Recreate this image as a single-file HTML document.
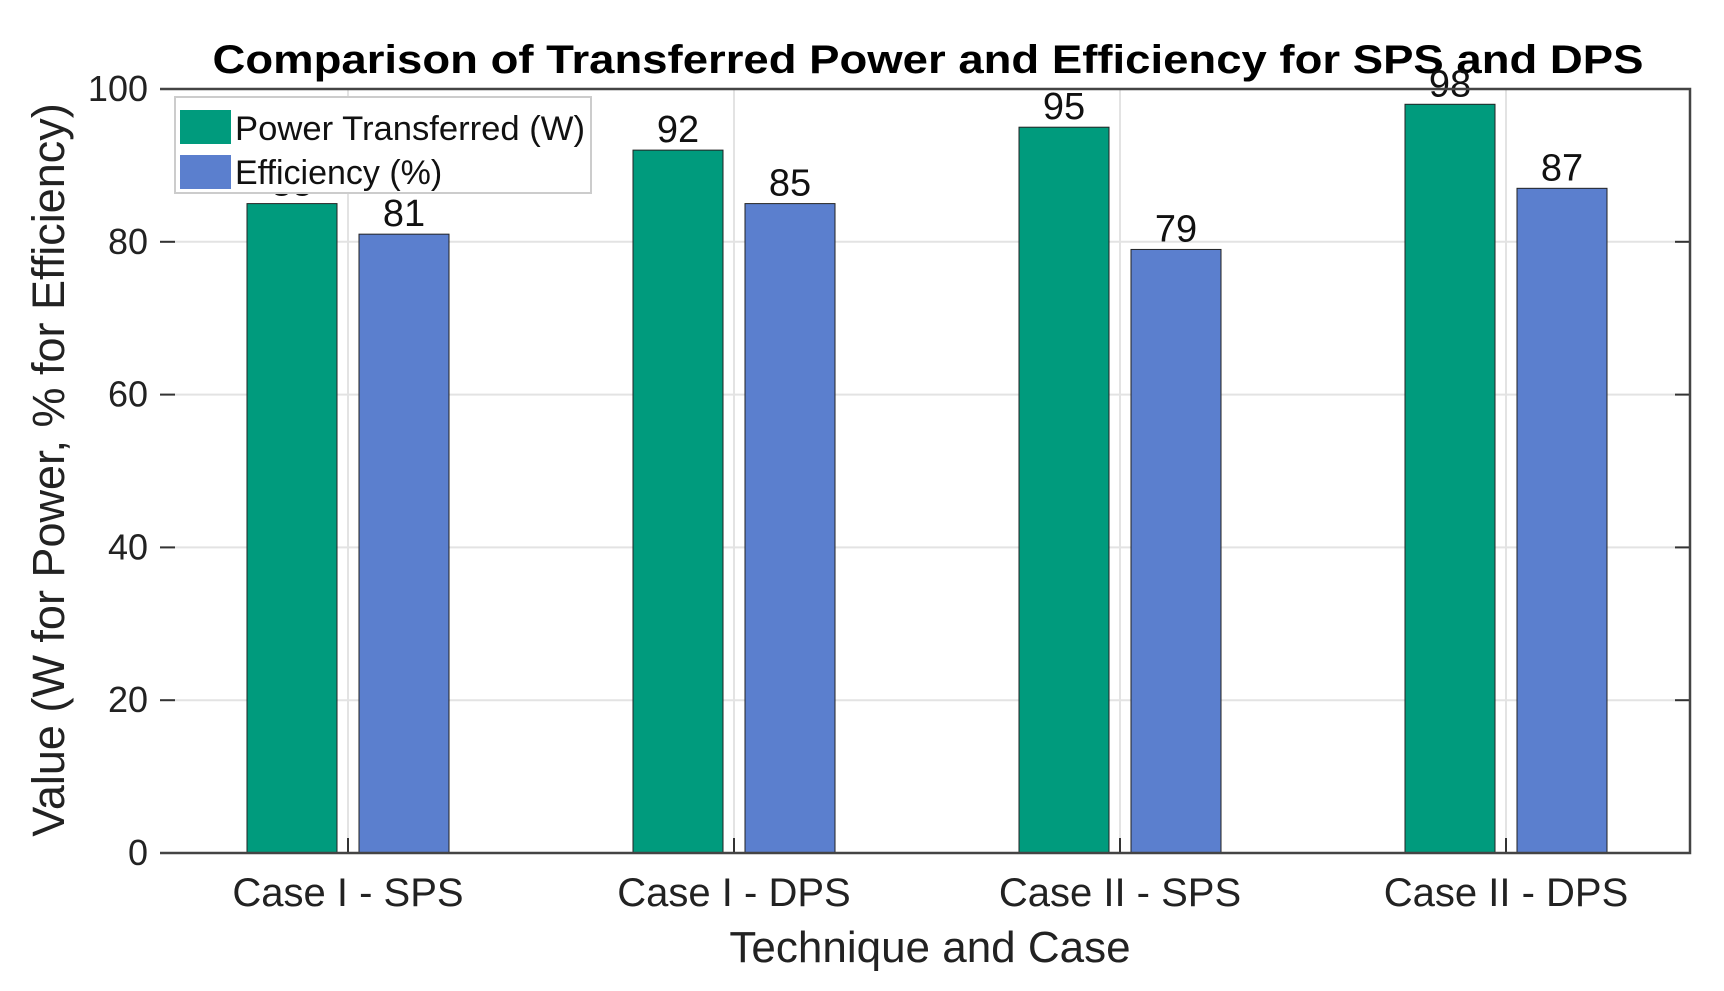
<!DOCTYPE html>
<html><head><meta charset="utf-8"><style>
html,body{margin:0;padding:0;background:#fff;}
svg{display:block;font-family:"Liberation Sans",sans-serif;}
</style></head><body>
<svg id="chart" width="1724" height="991" viewBox="0 0 1724 991">
<text x="928" y="73" text-anchor="middle" font-size="40" font-weight="bold" textLength="1431" lengthAdjust="spacingAndGlyphs">Comparison of Transferred Power and Efficiency for SPS and DPS</text>
<g id="grid"></g>
<g id="bars"></g>
<g id="axes"></g>
<text x="0" y="0" transform="translate(64,470) rotate(-90)" text-anchor="middle" font-size="45" fill="#222">Value (W for Power, % for Efficiency)</text>
<text x="930" y="962" text-anchor="middle" font-size="44" fill="#222">Technique and Case</text>
<g>
<rect x="175" y="97" width="416" height="96" fill="#fff" stroke="#ccc" stroke-width="2"/>
<rect x="180" y="110" width="51" height="34" fill="#009B7D"/>
<text x="235" y="140" font-size="34" fill="#111" textLength="350" lengthAdjust="spacingAndGlyphs">Power Transferred (W)</text>
<rect x="180" y="155" width="51" height="34" fill="#5B7FCE"/>
<text x="235" y="184" font-size="34" fill="#111">Efficiency (%)</text>
</g>
</svg>
<script>
const categories = ["Case I - SPS","Case I - DPS","Case II - SPS","Case II - DPS"];
const powerValues = [85, 92, 95, 98];
const efficiencyValues = [81, 85, 79, 87];
const yTicks = [0, 20, 40, 60, 80, 100];

const NS = "http://www.w3.org/2000/svg";
const L = 160, R = 1690, T = 89, B = 853;
const yMin = 0, yMax = 100;
function y(v){ return B - (v - yMin) / (yMax - yMin) * (B - T); }
const band = 386;
function xc(i){ return L + 188 + band * i; }
function mk(tag, attrs, parent){ const e = document.createElementNS(NS, tag); for (const k in attrs) e.setAttribute(k, attrs[k]); parent.appendChild(e); return e; }
const grid = document.getElementById('grid'), bars = document.getElementById('bars'), axes = document.getElementById('axes');

yTicks.forEach(t => {
  const ln = mk('line', {x1:L, x2:R, y1:y(t), y2:y(t), stroke:'#e3e3e3', 'stroke-width':2}, grid);
  
  
  const tk = mk('line', {x1:L, x2:L+15, y1:y(t), y2:y(t), stroke:'#333', 'stroke-width':2}, axes);
  
  
  const tk2 = mk('line', {x1:R-15, x2:R, y1:y(t), y2:y(t), stroke:'#333', 'stroke-width':2}, axes);
  
  
  const lb = mk('text', {x:L-12, y:y(t)+12, 'text-anchor':'end', 'font-size':36, fill:'#222'}, axes);
  lb.textContent = t;
  
  
});

const bw = 90, gap = 11;
categories.forEach((c, i) => {
  const vg = mk('line', {x1:xc(i), x2:xc(i), y1:T, y2:B, stroke:'#e3e3e3', 'stroke-width':2}, grid);
  
  
  const tk = mk('line', {x1:xc(i), x2:xc(i), y1:B-15, y2:B, stroke:'#333', 'stroke-width':2}, axes);
  
  
  const series = [[powerValues[i], '#009B7D', xc(i) - gap - bw, 'bar-power'], [efficiencyValues[i], '#5B7FCE', xc(i) + gap, 'bar-efficiency']];
  series.forEach(s => {
    const r = mk('rect', {x:s[2], y:y(s[0]), width:bw, height:B - y(s[0]), fill:s[1], stroke:'#222', 'stroke-width':1}, bars);
    
    
    const vl = mk('text', {x:s[2] + bw/2, y:y(s[0]) - 8, 'text-anchor':'middle', 'font-size':38, fill:'#111'}, bars);
    vl.textContent = s[0];
    
    
  });
  const xl = mk('text', {x:xc(i), y:906, 'text-anchor':'middle', 'font-size':40, fill:'#222'}, axes);
  xl.textContent = c;
  
  
});

const frame = mk('path', {d:`M${L},${T} L${R},${T} L${R},${B} L${L},${B}`, fill:'none', stroke:'#444', 'stroke-width':2.5}, axes);


</script>
</body></html>
